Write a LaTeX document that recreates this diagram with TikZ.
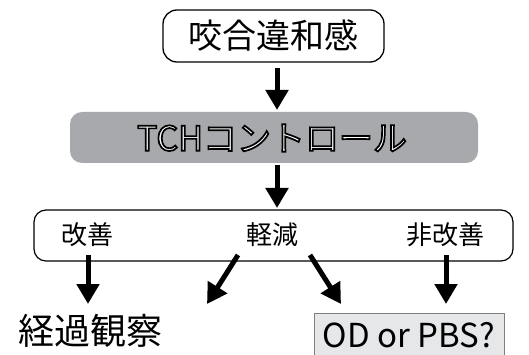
\documentclass[tikz,border=0pt]{standalone}
\usepackage{fontspec}
\newfontfamily\jp{Noto Sans CJK JP}
\usetikzlibrary{arrows.meta}
\definecolor{boxgray}{HTML}{A7A9AC}
\definecolor{odfill}{HTML}{E6E7E8}
\definecolor{odline}{HTML}{7F7F7F}
\newcommand{\outlinetext}[1]{\special{pdf:literal direct 2 Tr 1.7 w 0 0 0 RG 1 1 1 rg}#1\special{pdf:literal direct 0 Tr 0 0 0 RG 0 0 0 rg}}
\begin{document}
\begin{tikzpicture}[x=1pt,y=-1pt,
  bigarrow/.style={line width=5pt,-{Triangle[width=22pt,length=20pt]}},
  roundbox/.style={draw=black,line width=1.3pt,rounded corners=14pt,fill=white,inner sep=0pt},
  graybox/.style={fill=boxgray,rounded corners=12pt,inner sep=0pt},
  label/.style={font=\jp\fontsize{26}{28}\selectfont,inner sep=0pt}]
\useasboundingbox (0,0) rectangle (529,355);
\fill[white] (0,0) rectangle (529,355);
% top box
\node[roundbox,minimum width=221pt,minimum height=52pt,font=\jp\fontsize{34}{36}\selectfont] (top) at (273.5,36) {咬合違和感};
% gray box
\node[graybox,minimum width=408pt,minimum height=51pt] (tch) at (274,137.5) {};
\node[font=\jp\fontsize{34}{36}\selectfont,inner sep=0pt] (tchtxt) at (272,138) {\outlinetext{TCHコントロール}};
% bracket box
\node[roundbox,line width=1.2pt,rounded corners=12pt,minimum width=479pt,minimum height=51pt,fill=none] (res) at (273.5,235.5) {};
\node[label] (kaizen) at (87,235) {改善};
\node[label] (keigen) at (272,235) {軽減};
\node[label] (hikaizen) at (445,235) {非改善};
% bottom
\node[font=\jp\fontsize{36}{38}\selectfont,inner sep=0pt] (keika) at (90,331) {経過観察};
\node[fill=odfill,draw=odline,line width=0.8pt,inner sep=0pt,minimum width=190pt,minimum height=50pt,anchor=north west] (od) at (314,313) {};
\node[font=\jp\fontsize{33}{35}\selectfont,inner sep=0pt] (odtxt) at (409,335) {OD or PBS?};
% coordinates
\coordinate (a1s) at (277,68);
\coordinate (a1e) at (277,110);
\coordinate (a2s) at (277,165);
\coordinate (a2e) at (277,208);
\coordinate (b1s) at (88,255);
\coordinate (b1e) at (88,304);
\coordinate (b2s) at (238,255);
\coordinate (b2e) at (207,304);
\coordinate (b3s) at (310,255);
\coordinate (b3e) at (341,304);
\coordinate (b4s) at (446,255);
\coordinate (b4e) at (446,304);
\draw[bigarrow] (a1s) -- (a1e);
\draw[bigarrow] (a2s) -- (a2e);
\draw[bigarrow] (b1s) -- (b1e);
\draw[bigarrow] (b2s) -- (b2e);
\draw[bigarrow] (b3s) -- (b3e);
\draw[bigarrow] (b4s) -- (b4e);
\end{tikzpicture}
\end{document}
